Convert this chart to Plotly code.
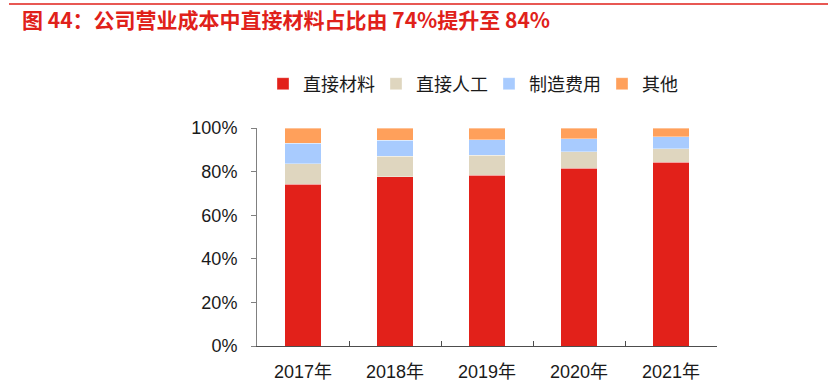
import plotly.graph_objects as go

years = ["2017年", "2018年", "2019年", "2020年", "2021年"]
direct_material = [74.3, 77.6, 78.4, 81.6, 84.4]
direct_labor = [9.2, 9.4, 9.2, 7.5, 6.1]
manufacturing = [9.4, 7.3, 6.9, 6.0, 5.5]
other = [7.1, 5.7, 5.5, 4.9, 4.0]

series = [
    ("直接材料", direct_material, "#E2211A"),
    ("直接人工", direct_labor, "#DFD6BF"),
    ("制造费用", manufacturing, "#A8CBFE"),
    ("其他", other, "#FFA05B"),
]

FONT = "Liberation Sans, Arial, Noto Sans CJK SC, sans-serif"

fig = go.Figure()
for name, vals, color in series:
    fig.add_trace(go.Bar(
        x=years, y=[v / 100 for v in vals], name=name,
        marker=dict(color=color, line=dict(color="rgba(255,255,255,0.6)", width=0.6)),
        width=0.4,
    ))

L, R, T, B = 257, 111, 128, 38
W, H = 828, 384
pw, ph = W - L - R, H - T - B

fig.update_layout(
    barmode="stack",
    width=W, height=H,
    margin=dict(l=L, r=R, t=T, b=B, autoexpand=False),
    plot_bgcolor="white", paper_bgcolor="white",
    font=dict(family=FONT, size=18, color="#1a1a1a"),
    showlegend=True,
    legend=dict(
        orientation="h", x=(263 - L) / pw, xanchor="left",
        y=(H - B - 84) / ph, yanchor="middle",
        font=dict(size=18, family="Noto Sans CJK SC, sans-serif", color="#1a1a1a"),
        traceorder="normal", itemwidth=30,
        entrywidth=68, entrywidthmode="pixels",
    ),
    title=dict(
        text="图 44：公司营业成本中直接材料占比由 74%提升至 84%",
        xref="container", x=22 / W, xanchor="left",
        yref="container", y=1 - 21 / H, yanchor="middle",
        font=dict(size=21, color="#E0211A", family="Noto Sans CJK SC, sans-serif", weight="bold"),
    ),
    xaxis=dict(
        showline=True, linecolor="#4d4d4d", linewidth=1,
        ticks="inside", tickson="boundaries", ticklen=5, tickcolor="#4d4d4d",
        showgrid=False, automargin=False,
        tickfont=dict(size=18, family=FONT, color="#1a1a1a"),
        ticklabelstandoff=9,
    ),
    yaxis=dict(
        range=[0, 1], dtick=0.2, tickformat=".0%",
        showline=True, linecolor="#808080", linewidth=1,
        ticks="outside", ticklen=5, tickcolor="#808080",
        showgrid=False, zeroline=False, automargin=False,
        tickfont=dict(size=18, family=FONT, color="#1a1a1a"),
        ticklabelstandoff=10,
    ),
    bargap=0.6,
)

fig.add_shape(
    type="line", xref="paper", yref="paper",
    x0=(9 - L) / pw, x1=(W - L) / pw,
    y0=(H - B - 4) / ph, y1=(H - B - 4) / ph,
    line=dict(color="#E0211A", width=1.5),
)

fig.write_html(
    "out.html",
    config={"displayModeBar": False},
    post_script="document.body.style.margin='0';",
)
